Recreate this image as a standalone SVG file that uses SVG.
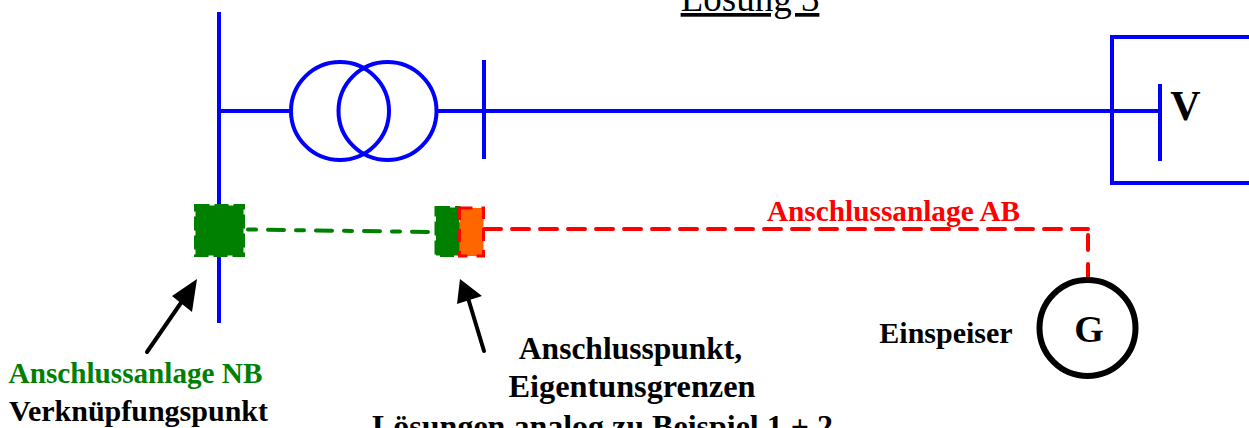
<svg xmlns="http://www.w3.org/2000/svg" width="1249" height="428" viewBox="0 0 1249 428">
<defs><style>
.b{fill:none;stroke:#0000ff;stroke-width:4}
.t{font-family:"Liberation Serif",serif;font-weight:bold;fill:#000;text-anchor:middle}
.g{fill:#008000;stroke:#008000;stroke-width:3;stroke-dasharray:14 5}
.ar{fill:none;stroke:#000;stroke-width:4;stroke-linecap:round}
.rd{fill:none;stroke:#ff0000;stroke-width:4;stroke-linecap:round}
</style></defs>
<rect width="1249" height="428" fill="#fff"/>
<text x="750" y="11" text-anchor="middle" font-family="Liberation Serif,serif" font-size="37" text-decoration="underline">Lösung 3</text>
<g id="netz"><path class="b" d="M219 12V323M219 111H291M436 111H1160M484 60V159M1160 84V161M1249 37H1112V183H1249"/><circle class="b" cx="340" cy="111" r="49"/><circle class="b" cx="387.500" cy="111" r="49"/><text class="t" x="1185.500" y="120" style="font-size:42px">V</text></g>
<g id="connectors">
<path d="M248 229.500L431 232" fill="none" stroke="#008000" stroke-width="4" stroke-linecap="round" stroke-dasharray="8 12 16 12"/>
<path class="rd" d="M484 229H1088" stroke-dasharray="17 11"/>
<path class="rd" d="M1088 235V250M1088 264V278"/>
<path class="ar" d="M147 352L185 297"/><path d="M197 279L172 296L192 312Z"/>
<path class="ar" d="M484 351L468 298"/><path d="M460 279L457 304L482 296Z"/>
</g>
<g id="anschlussanlage-nb"><rect class="g" x="195.500" y="205.500" width="48" height="50"/></g>
<g id="anschlusspunkt"><rect class="g" x="436" y="207.500" width="23" height="48"/><rect x="459.500" y="208" width="24" height="48" fill="#ff6600" stroke="#ff0000" stroke-width="3" stroke-dasharray="13 9"/></g>
<g id="generator"><circle cx="1087.500" cy="328" r="48" fill="#fff" stroke="#000" stroke-width="6"/><text class="t" x="1089" y="342" style="font-size:38px">G</text></g>
<text class="t" x="893.500" y="221" style="font-size:29.300px;fill:#ff0000">Anschlussanlage AB</text>
<text class="t" x="946" y="343" style="font-size:30px">Einspeiser</text>
<text class="t" x="135.500" y="383" style="font-size:29.200px;fill:#008000">Anschlussanlage NB</text>
<text class="t" x="138.500" y="421" style="font-size:30px">Verknüpfungspunkt</text>
<text class="t" x="630.500" y="359" style="font-size:31.500px">Anschlusspunkt,</text>
<text class="t" x="632" y="397" style="font-size:32.300px">Eigentunsgrenzen</text>
<text class="t" x="602.500" y="437" style="font-size:32px">Lösungen analog zu Beispiel 1 + 2</text>
</svg>
